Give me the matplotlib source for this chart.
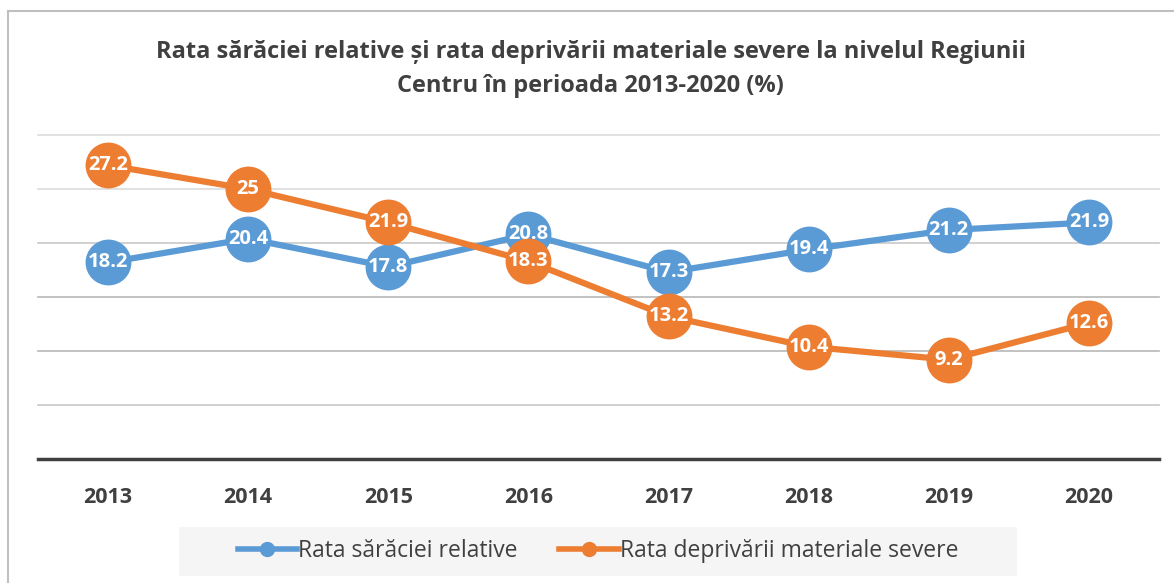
import matplotlib.pyplot as plt
from matplotlib.patches import Rectangle
from matplotlib.lines import Line2D

plt.rcParams['font.family'] = ['Open Sans', 'DejaVu Sans']

years = ['2013', '2014', '2015', '2016', '2017', '2018', '2019', '2020']
saracie = [18.2, 20.4, 17.8, 20.8, 17.3, 19.4, 21.2, 21.9]
deprivare = [27.2, 25, 21.9, 18.3, 13.2, 10.4, 9.2, 12.6]
series_names = ['Rata sărăciei relative', 'Rata deprivării materiale severe']
title = ('Rata sărăciei relative și rata deprivării materiale severe la nivelul Regiunii\n'
         'Centru în perioada 2013-2020 (%)')

blue = '#5b9bd5'
orange = '#ed7d31'
dark = '#404040'

W, H = 1174, 583
fig = plt.figure(figsize=(W / 100, H / 100), dpi=100)

# outer chart frame (right and bottom edges run off the picture)
fig.patches.append(Rectangle((8 / W, -0.1), 1.2, 0.1 + (H - 11) / H, transform=fig.transFigure,
                             fill=False, edgecolor='#bfbfbf', linewidth=1.5, zorder=0))

ax = fig.add_axes([38 / W, 124 / H, (1159 - 38) / W, (459 - 135) / H])
x = range(len(years))
ax.set_xlim(-0.5, len(years) - 0.5)
ax.set_ylim(0, 30)

grid_cols = {5: '#c8c8c8', 10: '#b8b8b8', 15: '#b8b8b8', 20: '#c8c8c8', 25: '#dcdcdc', 30: '#dcdcdc'}
for v, c in grid_cols.items():
    ax.axhline(v, color=c, linewidth=1.2, zorder=1, clip_on=False)

for vals, col in [(saracie, blue), (deprivare, orange)]:
    ax.plot(x, vals, color=col, linewidth=4.5, marker='o', markersize=32,
            markeredgecolor=col, zorder=3, clip_on=False)
    for xi, v in zip(x, vals):
        ax.text(xi, v, f'{v:g}', ha='center', va='center', color='white',
                fontsize=14.5, fontweight='bold', zorder=4)

for s in ['top', 'right', 'left']:
    ax.spines[s].set_visible(False)
ax.spines['bottom'].set_color(dark)
ax.spines['bottom'].set_linewidth(2.5)
ax.set_yticks([])
ax.set_xticks(list(x))
ax.set_xticklabels(years, fontsize=15.5, fontweight='bold', color=dark)
ax.tick_params(axis='x', length=0, pad=20)

fig.text(0.503, 0.882, title, ha='center', va='center', fontsize=17,
         fontweight='bold', color=dark, linespacing=1.55)

# legend with grey background
fig.patches.append(Rectangle((179 / W, (H - 576) / H), (1017 - 179) / W, 49 / H,
                             transform=fig.transFigure, facecolor='#f5f5f5',
                             edgecolor='none', zorder=1))
handles = [Line2D([], [], color=blue, linewidth=4, marker='o', markersize=10),
           Line2D([], [], color=orange, linewidth=4, marker='o', markersize=10)]
leg = fig.legend(handles, series_names, loc='center', bbox_to_anchor=(598 / W, (H - 551) / H),
                 ncol=2, frameon=False, fontsize=16.5, handlelength=2.6, handletextpad=0.05,
                 columnspacing=1.8, labelcolor=dark)

fig.savefig('out.png', dpi=100)
